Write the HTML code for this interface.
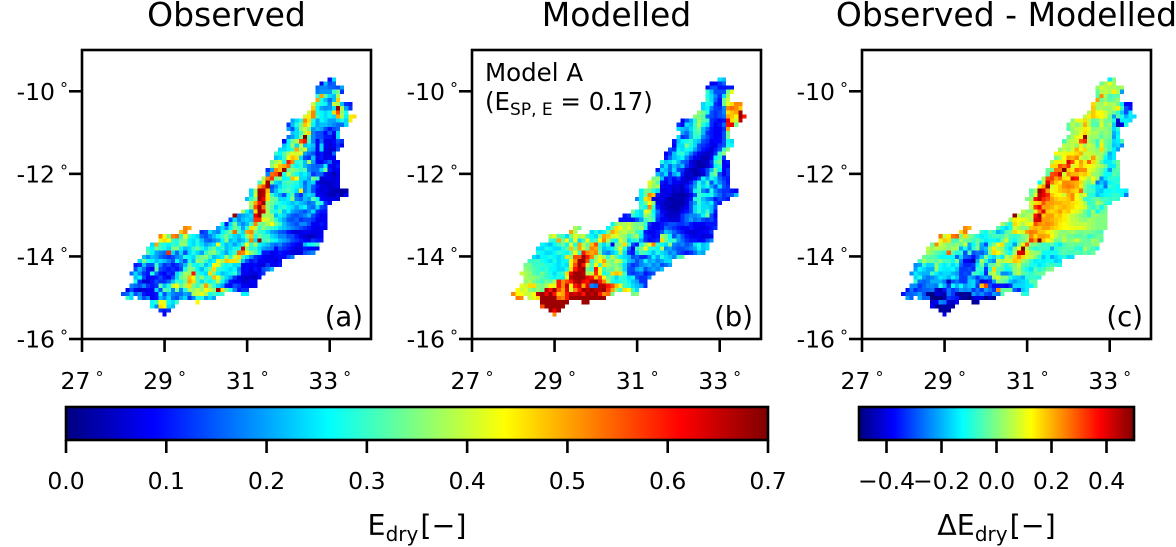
<!DOCTYPE html>
<html lang="en">
<head>
<meta charset="utf-8">
<title>Observed and modelled dry-season evaporation</title>
<style>
html,body{margin:0;padding:0;background:#fff;width:1176px;height:547px;overflow:hidden}
svg{display:block}
text{font-family:"DejaVu Sans","Liberation Sans",sans-serif;fill:#000}
</style>
</head>
<body>
<svg id="figure" xmlns="http://www.w3.org/2000/svg" width="1176" height="547" viewBox="0 0 1176 547">
<defs>
<linearGradient id="jet-gradient" x1="0" x2="1" y1="0" y2="0"></linearGradient>
</defs>
<g id="panels"></g>
<g id="bars"></g>
</svg>
<script>
/* Grid: 0.1 degree cells. Values are hundredths of E_dry. null = no data. */
const rowStartLon = [33.0,32.8,32.7,32.7,32.7,32.7,32.6,32.6,32.5,32.4,32.1,32.0,32.0,32.1,32.0,31.9,31.9,31.8,31.7,31.7,31.6,31.6,31.5,31.5,31.4,31.3,31.3,31.1,31.1,31.0,31.1,31.1,30.9,30.7,30.6,30.4,29.5,29.4,28.9,28.9,28.7,28.6,28.6,28.5,28.4,28.3,28.3,28.2,28.3,28.3,28.2,28.1,28.0,28.1,28.7,28.7,28.9,29.0];
const observedRows = [
[10,24],
[8,22,14,16],
[16,18,18,16,15,14,20],
[17,19,19,19,30,34,12],
[29,50,32,24,22,38],
[50,28,22,16,22,47],
[40,30,28,26,18,40,38,22,12,10],
[47,26,20,18,19,24,68,38,20,12],
[40,52,28,26,24,26,46,56,36,28],
[41,45,52,30,26,24,26,24,50,38,26,45,46],
[20,24,28,52,46,28,20,26,24,20,20,24,28,24,45],
[12,22,28,34,48,42,26,20,22,22,20,18,16,16,24],
[20,14,24,36,40,34,19,22,20,14,10,14,16],
[22,24,30,40,46,18,14,14,9,15,8,24],
[17,20,24,34,70,32,18,14,14,10,10,6,24],
[9,26,34,38,56,60,30,18,8,16,7,7,9,14,12],
[22,26,38,24,40,22,24,22,8,24,8,6,8,12,8],
[24,24,26,30,50,36,42,22,20,8,24,7,6,6,14],
[30,26,32,38,42,40,42,20,17,14,7,10,7,6,16],
[22,24,30,44,48,46,24,14,12,22,8,10,6,8,8],
[34,38,40,28,60,52,28,30,22,38,20,9,8,12,16,7,8],
[36,42,48,50,54,30,26,30,22,18,16,15,16,26,9,7,10],
[12,20,52,48,68,33,36,33,30,32,18,16,16,24,34,10,7,8],
[18,54,56,68,28,40,32,28,24,26,22,12,16,16,9,6,4,7],
[38,52,58,34,36,26,27,48,44,24,24,20,34,30,5,7,7,6,7],
[30,42,68,34,24,22,30,32,30,28,24,16,22,24,8,5,5,5,6,7],
[50,56,68,14,18,24,28,30,28,26,24,17,22,15,10,7,6,5,6,7],
[24,38,68,66,48,15,22,28,30,32,28,24,45,17,22,14,8,6,7,5,4,3,3,3],
[24,40,68,66,46,30,24,20,14,26,32,16,12,22,24,22,8,8,6,4,4,6,3,8],
[22,30,35,68,62,46,34,33,24,24,26,36,18,16,22,20,32,26,9,8,7,7,6],
[38,50,60,68,36,34,30,28,26,24,22,24,22,20,16,18,30,28,12,9],
[36,56,68,54,36,32,24,28,30,26,24,20,24,26,18,16,24,14,12],
[38,26,20,46,68,64,38,30,28,32,22,26,20,18,16,14,18,24,12,10,10],
[68,18,20,22,24,62,68,36,38,36,22,26,24,18,15,14,16,18,22,14,10,8,8],
[14,24,18,22,24,22,58,58,42,40,36,30,24,20,15,14,16,12,14,14,12,8,8,8],
[28,10,24,34,22,18,22,30,52,34,34,38,44,34,30,22,18,16,14,18,18,14,8,8,10,8],
[52,50,null,null,null,null,null,null,20,24,18,26,34,30,20,28,46,40,30,36,32,30,28,24,22,20,18,16,14,12,10,8,7,8,8],
[48,52,null,null,null,12,14,24,20,18,26,30,34,54,30,24,50,52,34,30,28,24,20,18,15,14,10,8,6,7,8,8,7,7,8],
[52,44,34,52,54,28,42,30,26,24,16,14,18,22,26,30,34,28,24,22,26,36,48,28,34,30,30,24,22,18,18,14,14,10,7,6,4,5,7,8],
[42,46,44,30,28,34,36,26,24,28,22,16,15,18,20,26,36,22,24,20,22,28,52,24,68,30,32,28,26,22,20,18,14,12,10,8,7,12,10,10],
[24,50,30,28,26,30,28,36,36,26,24,28,24,20,22,24,42,26,22,24,20,24,30,44,30,38,26,24,22,18,16,18,14,12,10,8,7,22,26,28,30],
[30,26,34,30,28,24,34,36,26,22,24,30,34,28,24,30,34,26,30,22,24,28,28,64,36,28,30,24,20,18,17,9,14,12,10,9,6,7,10,9,8,8],
[32,26,20,18,16,58,24,16,24,14,24,28,24,20,30,34,36,30,24,20,26,30,54,52,44,36,32,26,10,10,8,8,10,9,8,6,6,7,14,16,18],
[22,18,22,20,16,14,12,14,18,20,28,26,24,32,34,36,30,22,24,26,38,28,40,46,30,24,18,12,10,8,8,7,8,9,9,14,17],
[24,34,28,26,22,24,22,18,14,26,20,14,28,22,36,34,30,24,26,42,38,48,46,46,38,22,14,10,12,8,8,7,8,7,9],
[10,12,22,14,14,30,18,12,14,10,12,16,22,34,28,26,30,22,26,44,42,30,26,28,24,24,8,9,8,9,7,6,12,8,8,10],
[14,22,16,10,8,32,14,12,10,12,10,14,28,36,34,26,22,28,34,46,30,28,26,24,26,18,8,9,7,10,8,14,16,22],
[16,24,18,12,10,28,16,10,8,12,10,24,30,38,36,60,30,26,24,46,34,26,22,24,26,30,20,8,8,7,6,9,12],
[22,26,14,8,8,10,14,10,8,14,24,34,36,48,44,30,36,28,30,48,42,30,24,20,12,7,6,5,5,4,8],
[28,12,6,6,10,14,12,12,16,22,30,28,34,50,46,32,24,30,26,30,38,26,20,10,8,8,6,6,8,8],
[18,16,14,18,12,10,12,32,22,28,40,44,32,38,46,34,30,36,50,36,30,24,20,10,9,14,12,8,8,7,8],
[8,14,8,6,6,8,8,24,14,32,30,18,34,18,28,38,36,40,36,44,40,36,68,46,34,28,18,10,12,12],
[14,16,24,14,18,10,8,8,10,26,14,22,18,16,16,20,18,38,40,42,38,28,30,28,30,null,null,null,null,26,26],
[30,24,null,20,14,18,8,10,22,18,24,16,14,20,24,12,18,28,28,20,24,20],
[26,30,44,42,26,24,30,null,null,null,null,44],
[26,18,46,44,24,22],
[12,10,12],
[8]
];
const modelledRows = [
[24,22],
[8,8,12,16],
[8,14,14,10,10,10,10],
[30,22,14,14,14,34,42],
[28,24,18,12,24,38],
[30,24,16,10,34,40],
[24,28,26,12,10,34,42,46,52,52],
[24,26,18,13,12,18,52,54,52,47],
[36,34,28,14,12,14,18,46,48,50,68],
[36,34,32,16,14,12,14,16,50,48,44,68,60],
[8,14,20,28,38,32,30,12,10,8,10,62,46,40,66],
[12,8,24,22,30,38,28,24,12,8,10,16,60,62,34],
[24,22,20,24,30,34,22,16,10,8,8,12,50],
[20,16,22,30,32,22,12,10,8,8,14,34],
[24,12,14,22,30,28,18,14,10,8,9,14,34],
[10,22,26,28,30,24,22,14,12,8,9,9,14,26,24],
[8,24,24,34,28,24,14,12,10,8,7,12,14,28,26],
[14,12,26,24,28,26,20,14,10,8,6,10,14,30,36],
[8,12,22,28,30,24,18,12,8,6,5,6,12,30,36],
[10,16,22,24,26,18,12,8,6,4,4,8,26,30,12],
[28,22,24,28,22,16,14,7,5,3,4,5,12,30,34,8,10],
[18,24,16,22,18,22,12,8,5,3,3,6,10,26,30,9,8],
[10,24,22,16,24,14,12,6,4,3,5,8,14,22,34,26,8,12],
[22,18,24,12,20,24,10,5,6,3,4,6,14,30,34,14,8,12],
[34,36,22,10,12,9,12,7,5,5,8,12,26,20,28,24,16,12,10],
[42,38,32,10,8,12,8,8,6,6,10,18,28,22,30,14,24,18,14,10],
[40,36,38,9,8,8,6,6,5,10,14,20,30,24,28,20,14,24,14,12],
[26,34,34,28,24,6,7,8,5,6,4,8,12,26,30,18,14,28,18,14,12,12,10,8],
[26,34,52,48,10,6,8,6,4,3,3,4,8,14,30,28,26,28,20,16,12,14,14,22],
[18,26,46,48,8,6,8,5,3,3,4,3,6,10,28,30,22,18,16,10,14,12,10],
[28,34,44,36,8,6,4,4,3,3,3,6,14,20,30,24,22,26,14,10],
[30,26,52,30,10,6,5,3,3,3,5,8,14,24,28,24,24,22,14],
[34,26,24,42,40,26,16,8,6,5,4,4,8,10,14,24,30,24,30,22,10],
[10,12,30,26,24,38,34,28,14,10,6,5,5,6,12,16,18,18,20,26,34,14,8],
[10,10,10,10,14,20,30,34,30,12,8,8,6,6,7,12,16,20,16,18,14,12,14,10],
[26,36,38,38,40,36,34,34,30,12,8,8,10,12,14,14,12,12,14,10,8,8,8,10,10,10],
[38,34,null,null,null,null,null,null,26,34,46,44,38,42,36,34,38,28,10,8,8,10,16,14,12,10,8,8,10,8,7,7,8,10,12],
[50,38,null,null,null,24,28,24,26,34,50,46,38,40,36,38,30,28,10,8,8,10,14,22,20,16,12,10,7,6,6,7,8,9,12],
[38,42,32,30,24,34,42,38,40,30,26,24,36,50,48,40,42,38,36,30,34,38,26,12,10,8,10,38,34,26,14,20,14,10,8,7,8,6,6,9],
[30,28,50,34,44,28,42,24,30,44,28,32,44,52,38,30,26,42,36,24,28,30,20,12,8,10,12,46,34,28,30,20,16,12,10,10,8,9,14,18],
[26,24,22,26,30,34,26,42,28,50,38,32,48,56,30,24,30,8,34,36,46,30,14,10,28,36,42,52,30,26,24,36,18,16,18,14,16,24,28,22,24],
[24,24,28,26,24,24,28,32,48,34,50,40,34,52,50,30,22,24,26,34,42,28,16,8,30,34,44,30,28,26,38,18,20,16,14,14,16,18,20,26,22,24],
[28,26,24,24,26,30,28,26,32,44,30,60,52,50,52,34,20,18,22,26,38,24,12,10,24,32,30,26,22,28,24,22,18,20,14,12,10,12,16,22,20],
[24,22,26,26,28,26,24,26,46,36,56,56,68,60,52,36,42,38,30,40,32,26,24,22,14,16,12,12,18,26,20,28,24,22,18,30,32],
[30,30,30,28,26,24,28,24,26,26,44,52,68,68,56,30,38,44,50,36,34,40,38,28,22,20,14,18,26,20,22,18,20,24,24],
[34,34,30,30,30,28,28,26,24,26,24,44,56,68,60,40,32,44,30,46,38,34,36,32,24,16,12,14,18,20,22,18,20,14,16,20],
[36,34,32,30,28,30,26,26,24,24,28,46,60,66,68,34,30,60,44,30,34,32,38,34,24,14,14,20,22,14,18,20,18,22],
[40,38,36,32,30,34,30,28,24,28,30,46,62,68,68,66,38,40,58,44,28,30,46,48,46,30,14,12,14,16,10,12,14],
[38,36,36,34,32,30,28,26,28,26,42,66,68,68,68,62,60,48,56,44,34,30,24,30,28,24,26,14,12,12,18],
[36,38,34,32,30,34,32,38,60,52,56,60,66,68,62,60,66,68,60,52,38,28,26,28,30,26,22,20,12,12],
[42,40,46,46,36,34,38,44,42,60,52,64,44,60,64,50,62,18,16,66,66,60,56,48,42,30,28,24,22,20,12],
[44,40,42,36,34,36,34,66,60,68,56,50,62,40,52,60,68,66,68,66,66,68,58,50,36,30,46,44,30,24],
[52,44,44,40,40,44,66,68,62,68,60,48,50,60,66,64,66,60,68,66,68,60,52,54,34,null,null,null,null,34,36],
[53,52,null,40,42,46,68,68,68,68,54,52,60,68,68,68,68,68,68,68,68,68],
[68,68,68,68,68,68,68,null,null,null,68,68],
[56,68,68,68,68,68],
[68,62,68],
[52]
];
const differenceRows = [
[-14,0],
[-2,4,10,4],
[2,8,6,4,4,2,4],
[-3,5,6,4,14,4,-22],
[-4,24,4,-6,-4,-4],
[22,-2,2,-4,-2,2],
[16,4,2,8,4,4,-2,-14,-38,-38],
[18,3,4,2,2,6,14,-6,-30,-36],
[5,18,12,12,8,2,-2,-8,-18,-30,-14],
[6,14,18,14,12,8,-2,-22,-4,-10,-20,-14,-16],
[0,10,10,16,6,-4,-2,6,-2,-2,-10,-42,-14,-14,-16],
[-3,6,0,4,20,6,-4,-6,10,-2,2,-18,-44,-40,-10],
[-4,2,6,8,14,10,0,2,4,2,-2,-16,-8],
[2,4,10,16,8,4,4,-2,2,0,-20,-14],
[-2,4,10,12,48,4,2,2,-4,0,-2,-22,-12],
[-6,4,6,8,30,34,4,0,-8,8,-2,-4,-16,-14,-5],
[6,4,6,2,14,2,8,4,-8,14,-2,-6,-18,-16,-24],
[2,6,2,8,20,10,16,4,4,0,16,0,-6,-14,-22],
[12,10,10,14,14,16,20,6,8,6,2,4,-4,-20,-14],
[-2,4,12,22,20,24,8,4,6,22,6,2,-12,-18,-14],
[4,14,14,10,40,30,12,22,14,28,16,6,-4,-14,-14,-8,-2],
[16,16,30,26,34,8,14,20,14,12,10,6,4,-2,-14,-14,-2],
[-2,-2,26,26,50,18,14,28,24,24,10,8,2,-2,-10,-22,-6,-4],
[-4,30,32,42,8,24,20,20,16,18,14,2,2,-4,-12,-12,-4,-6],
[4,30,32,22,26,16,14,40,36,12,10,2,12,2,-24,-14,-8,-8,-10],
[-12,6,40,26,18,14,24,24,22,20,16,2,-2,6,-26,-18,-24,-12,-10,-8],
[14,22,48,8,14,18,24,26,24,20,14,0,-6,-10,-16,-14,-26,-8,-10,-12],
[-4,4,48,40,22,10,14,18,20,22,18,16,28,-2,-6,-6,-16,-18,-12,-12,-10,-12,-12,-14],
[-2,8,44,40,34,18,14,12,8,20,24,12,6,10,-8,-10,-18,-14,-12,-10,-8,-8,-12,-26],
[0,2,36,44,34,30,22,18,16,16,18,24,12,8,-8,-8,-4,-2,-6,-6,-8,-6,-8],
[8,16,18,30,22,22,20,20,18,18,16,14,10,4,-8,-6,4,0,-8,-10],
[6,32,38,22,22,20,16,18,20,18,16,12,10,8,-4,-8,-2,-12,-2],
[6,2,0,10,26,40,18,16,18,22,16,18,12,10,6,-2,-8,2,-12,-4,-2],
[48,6,0,4,6,36,46,18,22,22,16,18,14,10,6,4,0,-2,-8,2,2,0,0],
[2,14,12,10,8,4,40,42,22,22,20,18,16,14,10,6,6,2,0,4,2,0,0,0],
[4,-4,-10,16,10,4,10,12,30,24,22,24,22,18,14,12,10,8,6,6,6,4,2,0,0,0],
[24,20,null,null,null,null,null,null,-4,-12,-16,-10,8,4,0,0,18,20,18,22,22,18,16,14,12,12,10,10,10,8,4,2,0,0,0],
[16,26,null,null,null,-8,-12,-4,-8,-20,-16,-4,-2,16,10,8,22,26,24,18,18,14,10,6,2,0,2,4,0,-2,0,0,-2,-4,-6],
[26,6,14,26,28,-2,16,0,-4,-10,-14,-12,-8,-6,-6,-6,0,-6,-8,-6,0,2,24,16,22,22,20,12,6,0,4,-2,-2,-4,-4,-2,-8,-6,-2,-2],
[10,18,16,-6,-6,4,-2,-2,-8,-2,-8,-14,-12,-12,-14,-2,8,-8,-12,-4,-2,4,32,22,50,18,12,8,-2,-2,6,0,2,8,0,-2,-4,4,0,-4],
[-2,24,8,4,0,-2,2,-4,6,-20,-12,-2,-20,-30,-8,0,10,16,-8,-10,-22,-2,14,30,0,0,-4,-8,-6,-4,-10,-14,-6,-2,-2,-4,-4,-2,-2,0,2],
[6,2,6,4,4,0,4,4,-20,-10,-22,-8,0,-22,-18,2,14,4,2,-10,-16,0,12,50,6,-4,-10,-6,-6,-8,-20,-8,-6,-4,-4,-4,-8,-10,4,-2,-6,-10],
[4,0,-4,-6,-10,28,-4,-10,-8,-30,-6,-30,-26,-28,-22,0,16,12,2,-6,-12,4,40,42,14,4,2,0,-12,-12,-10,-12,-6,-4,-6,-6,-4,-6,-2,-6,-2],
[-2,-4,-4,-6,-12,-12,-12,-12,-28,-16,-28,-30,-36,-28,-18,0,-12,-16,-6,-14,6,2,16,24,16,8,6,0,-8,-18,-12,-21,-16,-13,-9,-16,-15],
[-6,4,-2,-2,-4,0,-6,-6,-12,0,-24,-38,-40,-46,-20,4,-8,-20,-24,6,4,8,8,18,16,2,0,-8,-14,-12,-14,-11,-12,-17,-15],
[-24,-22,-8,-16,-16,2,-10,-14,-10,-16,-12,-28,-34,-34,-32,-14,-2,-22,-4,-2,4,-4,-10,-4,0,8,-4,-5,-10,-11,-15,-12,-8,-6,-8,-10],
[-22,-12,-16,-20,-20,2,-12,-14,-14,-12,-18,-32,-32,-30,-34,-8,-8,-32,-10,16,-4,-4,-12,-10,2,4,-6,-11,-15,-4,-10,-6,-2,0],
[-24,-14,-18,-20,-20,-6,-14,-18,-16,-16,-20,-22,-32,-30,-32,-6,-8,-14,-34,2,6,-4,-24,-24,-20,0,6,-4,-6,-9,-4,-3,-2],
[-16,-10,-22,-26,-24,-20,-14,-16,-20,-12,-18,-32,-32,-20,-24,-32,-24,-20,-26,4,8,0,0,-10,-16,-17,-20,-9,-7,-8,-10],
[-8,-26,-28,-26,-20,-20,-20,-26,-44,-30,-26,-32,-32,-18,-16,-28,-42,-38,-34,-22,0,-2,-6,-18,-22,-18,-16,-14,-4,-4],
[-24,-24,-32,-28,-24,-24,-26,-10,-20,-32,-12,-20,-12,-22,-18,-16,-32,18,30,-30,-36,-36,-36,-38,-33,-16,-16,-16,-14,-13,-4],
[-36,-26,-34,-30,-28,-28,-26,-42,-46,-36,-26,-32,-28,-22,-24,-22,-32,-26,-32,-22,-26,-32,24,-4,-2,-2,-28,-34,-18,-14],
[-36,-28,-28,-26,-22,-30,-48,-50,-42,-42,-46,-26,-32,-44,-50,-46,-48,-22,-28,-24,-30,-32,-22,-26,-4,null,null,null,null,-8,-10],
[-22,-28,null,-20,-28,-28,-50,-50,-50,-46,-32,-34,-36,-46,-48,-50,-42,-40,-40,-48,-44,-48],
[-42,-38,-24,-26,-42,-44,-38,null,null,null,-48,-46],
[-38,-48,-48,-46,-46,-46],
[-46,-48,-46],
[-40]
];
const lonTicks = [27,29,31,33];
const latTicks = [-10,-12,-14,-16];
const evapTicks = [0,0.1,0.2,0.3,0.4,0.5,0.6,0.7];
const evapTickLabels = ["0.0","0.1","0.2","0.3","0.4","0.5","0.6","0.7"];
const diffTicks = [-0.4,-0.2,0,0.2,0.4];
const diffTickLabels = ["\u22120.4","\u22120.2","0.0","0.2","0.4"];

const NS = "http://www.w3.org/2000/svg";
const panelsLayer = document.getElementById("panels");
const barsLayer = document.getElementById("bars");
const PANEL_W = 289, PANEL_TOP = 50, PANEL_H = 289;
const LON_MIN = 27, LON_MAX = 34, LAT_MIN = -16, LAT_MAX = -9;
const CELL = 0.1;

function jet(t){
  t = Math.max(0, Math.min(1, t));
  const ch = c => Math.round(255 * Math.max(0, Math.min(1, 1.5 - Math.abs(4 * t - c))));
  return "rgb(" + ch(3) + "," + ch(2) + "," + ch(1) + ")";
}
function xScale(left, lon){ return left + (lon - LON_MIN) / (LON_MAX - LON_MIN) * PANEL_W; }
function yScale(lat){ return PANEL_TOP + (LAT_MAX - lat) / (LAT_MAX - LAT_MIN) * PANEL_H; }

function addText(parent, x, y, size, anchor, str){
  const t = document.createElementNS(NS, "text");
  t.setAttribute("x", x);
  t.setAttribute("y", y);
  t.setAttribute("font-size", size);
  t.setAttribute("text-anchor", anchor);
  t.textContent = str;
  parent.appendChild(t);
  return t;
}
function addSub(t, str, size, dy){
  const s = document.createElementNS(NS, "tspan");
  s.setAttribute("font-size", size);
  s.setAttribute("dy", dy);
  s.textContent = str;
  t.appendChild(s);
  return s;
}
function addDegree(t){
  const d = addSub(t, "\u00B0", 16, -6);
  d.setAttribute("dx", 5);
  return d;
}
function addLine(parent, x1, y1, x2, y2){
  const l = document.createElementNS(NS, "line");
  l.setAttribute("x1", x1);
  l.setAttribute("y1", y1);
  l.setAttribute("x2", x2);
  l.setAttribute("y2", y2);
  l.setAttribute("stroke", "#000");
  l.setAttribute("stroke-width", 2.6);
  parent.appendChild(l);
  return l;
}

function drawPanel(left, title, titleName, rows, vmin, vmax, letter){
  const g = document.createElementNS(NS, "g");
  
  
  panelsLayer.appendChild(g);

  const cells = document.createElementNS(NS, "g");
  
  
  cells.setAttribute("shape-rendering", "crispEdges");
  g.appendChild(cells);

  rows.forEach(function(row, r){
    const lat = -9.71 - CELL * r;
    row.forEach(function(v, i){
      if (v === null) return;
      const lon = rowStartLon[r] + CELL * i;
      const x0 = xScale(left, lon - CELL / 2), x1 = xScale(left, lon + CELL / 2);
      const y0 = yScale(lat + CELL / 2), y1 = yScale(lat - CELL / 2);
      const rect = document.createElementNS(NS, "rect");
      
      
      rect.setAttribute("x", x0.toFixed(2));
      rect.setAttribute("y", y0.toFixed(2));
      rect.setAttribute("width", (x1 - x0).toFixed(2));
      rect.setAttribute("height", (y1 - y0).toFixed(2));
      rect.setAttribute("fill", jet((v / 100 - vmin) / (vmax - vmin)));
      cells.appendChild(rect);
    });
  });

  const frame = document.createElementNS(NS, "rect");
  
  
  frame.setAttribute("x", left);
  frame.setAttribute("y", PANEL_TOP);
  frame.setAttribute("width", PANEL_W);
  frame.setAttribute("height", PANEL_H);
  frame.setAttribute("fill", "none");
  frame.setAttribute("stroke", "#000");
  frame.setAttribute("stroke-width", 2.6);
  g.appendChild(frame);

  lonTicks.forEach(function(lon){
    const x = xScale(left, lon);
    const tick = addLine(g, x, PANEL_TOP + PANEL_H, x, PANEL_TOP + PANEL_H + 13);
    
    
    const lab = addText(g, x, 389, 23.5, "middle", String(lon));
    
    
    addDegree(lab);
  });
  latTicks.forEach(function(lat){
    const y = yScale(lat);
    const tick = addLine(g, left, y, left - 13, y);
    
    
    const lab = addText(g, left - 14, y + 8.5, 23.5, "end", String(lat));
    
    
    addDegree(lab);
  });

  const ttl = addText(g, left + PANEL_W / 2, 26, 33, "middle", title);
  
  

  const tag = addText(g, left + PANEL_W - 8, 326, 27.5, "end", letter);
  
  
  return g;
}

function drawColorbar(left, right, vmin, vmax, ticks, labels, name, prefix){
  const top = 407, bottom = 440;
  const scale = v => left + (v - vmin) / (vmax - vmin) * (right - left);
  const g = document.createElementNS(NS, "g");
  
  
  barsLayer.appendChild(g);
  const body = document.createElementNS(NS, "rect");
  
  
  body.setAttribute("x", left);
  body.setAttribute("y", top);
  body.setAttribute("width", right - left);
  body.setAttribute("height", bottom - top);
  body.setAttribute("fill", "url(#jet-gradient)");
  body.setAttribute("stroke", "#000");
  body.setAttribute("stroke-width", 2.6);
  g.appendChild(body);
  ticks.forEach(function(v, i){
    const x = scale(v);
    const tick = addLine(g, x, bottom, x, bottom + 13);
    
    
    const lab = addText(g, x, 489, 23.5, "middle", labels[i]);
    
    
  });
  const cx = (left + right) / 2;
  const t = addText(g, cx + 0, 535, 28.5, "middle", prefix + "E");
  
  
  addSub(t, "dry", 20, 6);
  const rest = addSub(t, "[\u2212]", 28.5, -6);
  rest.setAttribute("dx", 2);
}

const gradient = document.getElementById("jet-gradient");
for (let i = 0; i <= 32; i++) {
  const stop = document.createElementNS(NS, "stop");
  stop.setAttribute("offset", (i / 32).toFixed(4));
  stop.setAttribute("stop-color", jet(i / 32));
  gradient.appendChild(stop);
}

drawPanel(82, "Observed", "observed", observedRows, 0, 0.7, "(a)");
const modelPanel = drawPanel(472, "Modelled", "modelled", modelledRows, 0, 0.7, "(b)");
drawPanel(862, "Observed - Modelled", "difference", differenceRows, -0.5, 0.5, "(c)");

const modelName = addText(modelPanel, 485, 81, 24.5, "start", "Model A");


const modelScore = addText(modelPanel, 485, 110, 24.5, "start", "(E");


addSub(modelScore, "SP, E", 17, 5);
addSub(modelScore, " = 0.17)", 24.5, -5);

drawColorbar(66, 768, 0, 0.7, evapTicks, evapTickLabels, "evaporation-colorbar", "");
drawColorbar(859, 1134, -0.5, 0.5, diffTicks, diffTickLabels, "difference-colorbar", "\u0394");
</script>
</body>
</html>
